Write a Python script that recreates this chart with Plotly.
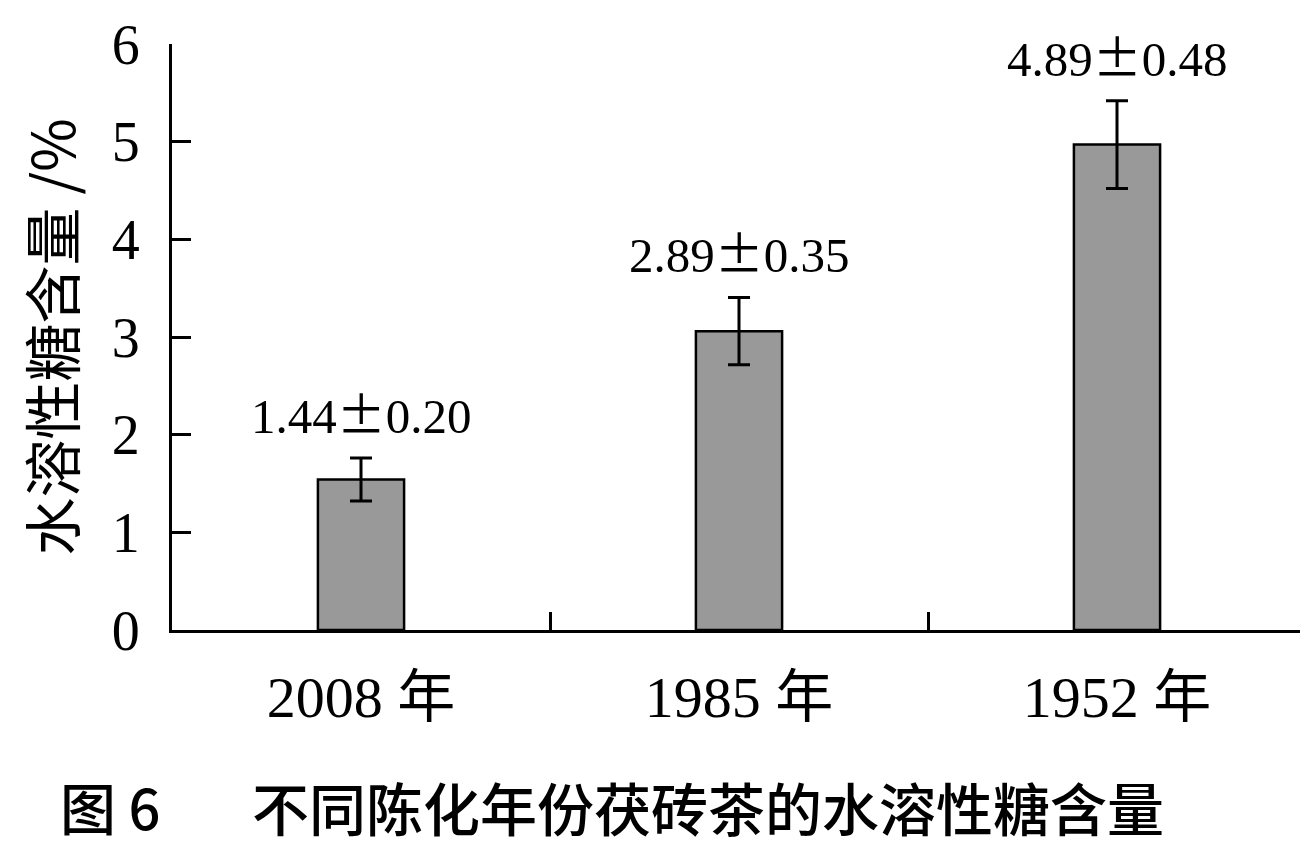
import plotly.graph_objects as go

categories = ["2008 年", "1985 年", "1952 年"]
bar_values = [1.54, 3.06, 4.97]
error_values = [0.22, 0.345, 0.45]
value_labels = ["1.44±0.20", "2.89±0.35", "4.89±0.48"]
y_ticks = [0, 1, 2, 3, 4, 5, 6]

SERIF = "Liberation Serif, Times New Roman, Noto Sans CJK SC, serif"
CJK = "Noto Sans CJK SC, sans-serif"

fig = go.Figure()
fig.add_trace(go.Bar(
    x=categories, y=bar_values, width=0.228,
    marker=dict(color="#999999", line=dict(color="black", width=2.5)),
    error_y=dict(type="data", array=error_values, visible=True,
                 color="black", thickness=3, width=11),
    showlegend=False,
))

for c, v, e, t in zip(categories, bar_values, error_values, value_labels):
    num, rest = t.split("±")
    txt = num + "<span style='font-family:Noto Sans CJK SC'>±</span>" + rest
    fig.add_annotation(x=c, y=v + e, text=txt, showarrow=False,
                       yanchor="bottom", yshift=9,
                       font=dict(family=SERIF, size=49, color="black"))

fig.add_annotation(xref="paper", yref="paper", x=-0.1005, y=-0.300,
                   text="图 6", showarrow=False, xanchor="left", yanchor="middle",
                   font=dict(family=CJK, size=56, color="black", weight=500))
fig.add_annotation(xref="paper", yref="paper", x=0.0688, y=-0.300,
                   text="不同陈化年份茯砖茶的水溶性糖含量", showarrow=False,
                   xanchor="left", yanchor="middle",
                   font=dict(family=CJK, size=57, color="black", weight=500))

fig.update_layout(
    width=1300, height=840,
    margin=dict(l=164, r=2, t=36, b=218, autoexpand=False),
    paper_bgcolor="white", plot_bgcolor="white",
    xaxis=dict(
        range=[-0.5, 2.5], tickson="boundaries", ticks="inside",
        ticklen=18, tickwidth=2.5, tickcolor="black",
        showline=True, linecolor="black", linewidth=3,
        showgrid=False, zeroline=False, automargin=False,
        tickfont=dict(family=SERIF, size=58, color="black"),
        ticklabelstandoff=14,
    ),
    yaxis=dict(
        range=[0, 6], tickvals=y_ticks, ticks="inside",
        ticklen=19, tickwidth=2.5, tickcolor="black",
        showline=True, linecolor="black", linewidth=3,
        showgrid=False, zeroline=False, automargin=False,
        tickfont=dict(family=SERIF, size=56, color="black"),
        ticklabelstandoff=18,
        title=dict(text="水溶性糖含量 /%", standoff=52,
                   font=dict(family=CJK, size=58, color="black")),
    ),
)

fig.write_html("out.html")
